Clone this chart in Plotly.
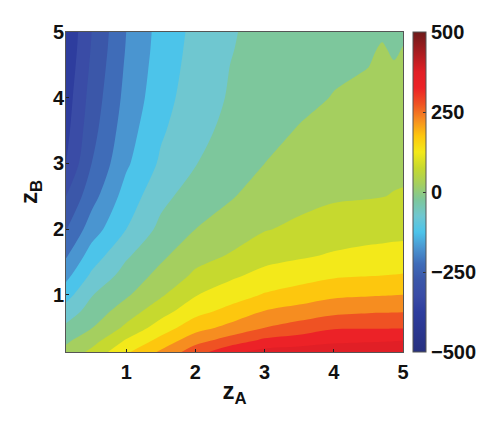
import plotly.graph_objects as go

z_a = [0.13, 0.5, 1, 1.5, 2, 2.5, 3, 3.5, 4, 4.5, 4.7, 4.87, 5]
z_b = [0.13, 0.3, 0.5, 0.75, 1, 1.3, 1.6, 2, 2.5, 3, 3.5, 4, 4.5, 4.75, 5]
values = [
    [15, 62, 142, 208, 278, 335, 368, 375, 380, 383, 384, 385, 385],
    [-8, 30, 106, 166, 233, 272, 312, 325, 340, 345, 347, 349, 350],
    [-39, -2, 60, 124, 180, 215, 250, 272, 295, 296, 296, 297, 297],
    [-79, -29, 25, 79, 133, 165, 202, 219, 236, 244, 245, 246, 247],
    [-120, -53, -7, 43, 97, 125, 154, 172, 190, 195, 197, 199, 200],
    [-166, -92, -31, 14, 58, 90, 114, 128, 142, 147, 149, 151, 153],
    [-206, -127, -57, -10, 33, 53, 82, 93, 105, 113, 115, 117, 118],
    [-253, -175, -100, -37, 0, 26, 47, 60, 73, 80, 82, 84, 85],
    [-300, -219, -129, -65, -25, -5, 24, 35, 44, 47, 49, 52, 53],
    [-350, -250, -158, -92, -52, -26, 0, 20, 28, 35, 38, 40, 42],
    [-365, -268, -173, -107, -64, -38, -15, 3, 15, 25, 27, 29, 30],
    [-375, -280, -185, -120, -73, -46, -25, -12, 2, 11, 14, 17, 18],
    [-386, -291, -193, -127, -81, -50, -33, -20, -8, -1, 8, 2, 7],
    [-391, -296, -197, -130, -84, -52, -37, -24, -12, -5, 3, -5, 1],
    [-395, -300, -200, -132, -87, -53, -40, -28, -16, -8, -5, -12, -5],
]
band_colors = ["#2e3d9e", "#2e3d9e", "#3a4ca6", "#3b57a9", "#3f6cb8", "#4a95d0", "#4cc4ea", "#6fc7d0", "#7dc79c",
               "#a5cf5f", "#c6d92f", "#f3e91a", "#fdc70e", "#f68d20", "#ef5223", "#ec2227", "#e11f26", "#e11f26"]
bar_values = [-500, -375, -325, -275, -225, -175, -125, -75, -25, 25, 75, 125, 175, 225, 275, 325, 375, 500]
bar_colors = ["#27307f", "#2e3d9e", "#3a4ca6", "#3b57a9", "#3f6cb8", "#4a95d0", "#4cc4ea", "#6fc7d0", "#7dc79c",
              "#a5cf5f", "#c6d92f", "#f3e91a", "#fdc70e", "#f68d20", "#ef5223", "#ec2227", "#e11f26", "#6d1a1a"]
ticks_xy = [1, 2, 3, 4, 5]
ticks_bar = [-500, -250, 0, 250, 500]
tick_text_bar = ["\u2212500", "\u2212250", "0", "250", "500"]

FONT = dict(family="Liberation Sans", size=20, color="#111", weight=700)
scale_fill = [[i / (len(band_colors) - 1), c] for i, c in enumerate(band_colors)]
scale_bar = [[(v + 500) / 1000, c] for v, c in zip(bar_values, bar_colors)]

fig = go.Figure()
fig.add_trace(go.Contour(
    x=z_a, y=z_b, z=values, colorscale=scale_fill, showscale=False, hoverinfo="skip",
    autocontour=False, contours=dict(start=-400, end=400, size=50, coloring="fill"),
    line=dict(width=0, smoothing=0.9),
))
fig.add_trace(go.Scatter(
    x=[None], y=[None], mode="markers", showlegend=False,
    marker=dict(color=[0], cmin=-500, cmax=500, colorscale=scale_bar, showscale=True,
                colorbar=dict(thicknessmode="pixels", thickness=13, lenmode="fraction", len=1,
                              x=1.03, xanchor="left", xpad=0, ypad=0, y=0.5, yanchor="middle",
                              outlinewidth=1, outlinecolor="#555", tickvals=ticks_bar, ticktext=tick_text_bar,
                              ticks="inside", ticklen=3, tickcolor="#333", tickfont=FONT)),
))
axis = dict(tickvals=ticks_xy, ticks="inside", ticklen=3, tickcolor="#222", showline=True,
            linecolor="#555", linewidth=1, mirror=True, showgrid=False, zeroline=False,
            range=[0.13, 5], tickfont=FONT)
fig.update_layout(
    width=500, height=427, autosize=False, margin=dict(l=58, r=105, t=24, b=83),
    paper_bgcolor="white", plot_bgcolor="white", showlegend=False,
    xaxis=dict(axis, ticklabelstandoff=2,
               title=dict(text="z<sub>A</sub>", font=dict(FONT, size=24), standoff=0)),
    yaxis=dict(axis, ticklabelstandoff=-3,
               title=dict(text="z<sub>B</sub>", font=dict(FONT, size=24), standoff=8)),
)
fig.write_html("out.html")
